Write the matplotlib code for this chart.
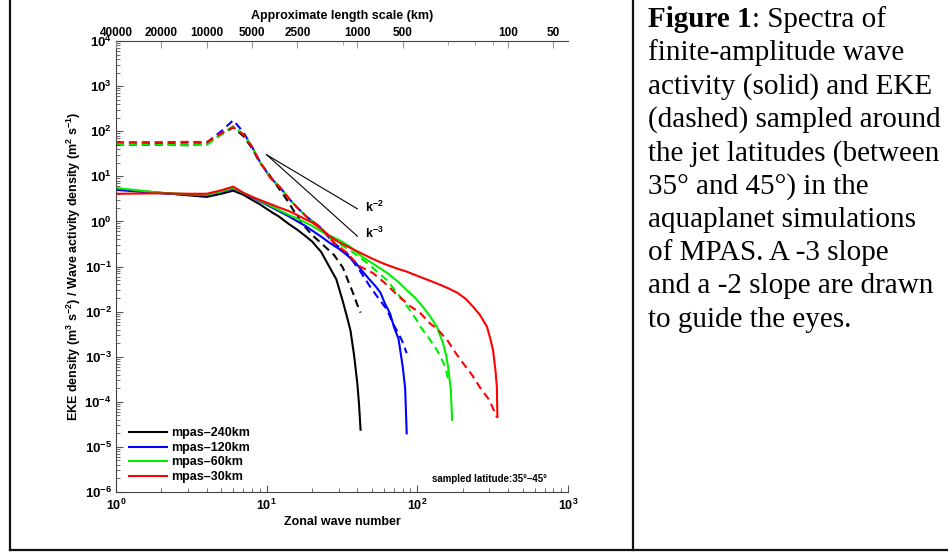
import numpy as np
import matplotlib
matplotlib.use('Agg')
import matplotlib.pyplot as plt
from matplotlib.ticker import LogLocator, NullFormatter, FixedLocator

plt.rcParams['font.family'] = 'Liberation Sans'
plt.rcParams['font.weight'] = 'bold'
plt.rcParams['axes.labelweight'] = 'bold'
plt.rcParams['mathtext.fontset'] = 'custom'
plt.rcParams['mathtext.rm'] = 'Liberation Sans:bold'
plt.rcParams['mathtext.it'] = 'Liberation Sans:bold:italic'
plt.rcParams['mathtext.bf'] = 'Liberation Sans:bold'

# --- data -----------------------------------------------------------------
models = ['mpas–240km', 'mpas–120km', 'mpas–60km', 'mpas–30km']
colors = ['#000000', '#0000ff', '#00ee00', '#ff0000']

# finite-amplitude wave activity (solid)
k_wa_240 = [1, 2, 3, 4, 5, 6, 7, 8, 9, 10, 11, 12, 14, 16, 18, 20, 23, 26, 29, 32, 34, 36, 38, 40, 41, 42]
wa_240 = [5.2, 4.3, 3.8, 3.5, 4.1, 4.8, 3.9, 3.0, 2.4, 1.9, 1.54, 1.3, 0.88, 0.65, 0.48, 0.36, 0.21, 0.1,
          0.052, 0.017, 0.008, 0.0038, 0.0011, 2.5e-4, 9e-5, 2.4e-5]

k_wa_120 = [1, 2, 3, 4, 5, 6, 7, 8, 9, 10, 11, 12, 14, 16, 18, 20, 23, 26, 30, 34, 39, 43, 48, 53, 57, 61,
            66, 70, 75, 80, 83, 85]
wa_120 = [5.0, 4.2, 3.9, 3.8, 4.5, 5.3, 4.2, 3.4, 2.8, 2.35, 1.98, 1.7, 1.3, 1.0, 0.8, 0.63, 0.46, 0.34,
          0.25, 0.18, 0.12, 0.08, 0.052, 0.036, 0.026, 0.015, 0.009, 0.0045, 0.0025, 6e-4, 2e-4, 2e-5]

k_wa_60 = [1, 2, 3, 4, 5, 6, 7, 8, 9, 10, 11, 12, 14, 16, 18, 20, 23, 27, 31, 36, 43, 52, 63, 75, 85, 97,
           109, 121, 135, 148, 155, 160, 167, 170]
wa_60 = [5.5, 4.3, 4.0, 3.9, 4.6, 5.5, 4.3, 3.5, 2.9, 2.45, 2.09, 1.8, 1.4, 1.15, 0.95, 0.8, 0.6, 0.46,
         0.37, 0.27, 0.165, 0.11, 0.072, 0.045, 0.03, 0.02, 0.0127, 0.008, 0.0046, 0.002, 0.0011, 6e-4,
         1.8e-4, 4e-5]

k_wa_30 = [1, 2, 3, 4, 5, 6, 7, 8, 9, 10, 11, 12, 14, 16, 18, 20, 23, 26, 30, 35, 42, 50, 60, 72, 85, 100,
           120, 140, 160, 185, 210, 235, 260, 290, 305, 318, 330, 337, 340]
wa_30 = [4.1, 4.2, 4.1, 4.1, 4.9, 5.9, 4.3, 3.5, 3.0, 2.6, 2.31, 2.05, 1.7, 1.38, 1.12, 0.95, 0.68, 0.48,
         0.35, 0.27, 0.2, 0.15, 0.115, 0.092, 0.077, 0.062, 0.049, 0.04, 0.033, 0.026, 0.019, 0.0127,
         0.0085, 0.0046, 0.0025, 0.0014, 5e-4, 2.2e-4, 4.6e-5]

# EKE (dashed)
k_eke_240 = [1, 2, 3, 4, 5, 6, 7, 8, 9, 10, 11, 12, 13, 14, 15, 16, 17, 18, 20, 23, 25.5, 28, 30, 32, 35,
             37.4, 40, 42]
eke_240 = [51, 50, 49, 51, 85, 122, 78, 42, 20, 13, 8.3, 5.5, 3.8, 2.6, 1.8, 1.3, 0.95, 0.75, 0.5, 0.33,
           0.24, 0.18, 0.13, 0.095, 0.045, 0.026, 0.014, 0.0095]

k_eke_120 = [1, 2, 3, 4, 5, 6, 7, 8, 9, 10, 10.5, 12.2, 14.3, 16, 18.5, 22.6, 27.6, 34, 41.6, 48, 55, 63,
             68, 74, 79, 85]
eke_120 = [55, 55, 56, 56, 100, 175, 95, 45, 21, 12.5, 9.6, 5.8, 3.0, 2.0, 1.25, 0.75, 0.34, 0.2, 0.08,
           0.038, 0.02, 0.011, 0.006, 0.0035, 0.0023, 0.0012]

k_eke_60 = [1, 2, 3, 4, 5, 6, 7, 8, 9, 10, 10.5, 12.2, 14.3, 16, 18.5, 22.6, 27.6, 35.7, 46.3, 62.8, 80,
            99, 104, 120, 135, 150, 157, 160]
eke_60 = [52, 50, 49, 50, 85, 130, 85, 45, 21, 12.5, 9.6, 5.8, 3.0, 2.0, 1.25, 0.75, 0.38, 0.232, 0.12,
          0.05, 0.0181, 0.0065, 0.0048, 0.0025, 0.0014, 7e-4, 4.4e-4, 3e-4]

k_eke_30 = [1, 2, 3, 4, 5, 6, 7, 8, 9, 10, 10.5, 12.2, 14.3, 16, 18.5, 22.6, 27.6, 34, 41.6, 50.7, 60, 73,
            90, 104, 121, 135, 160, 180, 201, 230, 260, 300, 337]
eke_30 = [57, 57, 58, 57, 90, 123, 85, 45, 21, 12.5, 9.6, 5.8, 3.0, 2.0, 1.25, 0.75, 0.35, 0.2, 0.1,
          0.0718, 0.045, 0.024, 0.013, 0.0095, 0.0055, 0.0042, 0.0022, 0.0012, 7.2e-4, 4e-4, 2.1e-4,
          1.1e-4, 4.6e-5]

wa_k = [k_wa_240, k_wa_120, k_wa_60, k_wa_30]
wa = [wa_240, wa_120, wa_60, wa_30]
eke_k = [k_eke_240, k_eke_120, k_eke_60, k_eke_30]
eke = [eke_240, eke_120, eke_60, eke_30]

# guide slopes (k^-2 and k^-3) end points
slope_k = [10, 40]
slope2_v = [30, 1.9]
slope3_v = [30, 0.47]

# top axis: approximate length scale (km)
length_labels = [40000, 20000, 10000, 5000, 2500, 1000, 500, 100, 50]
length_minor = [1250, 250, 166.7, 125]

caption = ['finite-amplitude wave', 'activity (solid) and EKE', '(dashed) sampled around',
           'the jet latitudes (between', '35° and 45°) in the', 'aquaplanet simulations',
           'of MPAS. A -3 slope', 'and a -2 slope are drawn', 'to guide the eyes.']

# --- figure ---------------------------------------------------------------
W, H = 948, 552
fig = plt.figure(figsize=(W / 100, H / 100), dpi=100)
ax = fig.add_axes([116 / W, 1 - 492 / H, 452 / W, 451 / H])

handles = []
for i in range(4):
    h, = ax.plot(wa_k[i], wa[i], color=colors[i], lw=1.5, label=models[i])
    handles.append(h)
    ax.plot(eke_k[i], eke[i], color=colors[i], lw=1.5, dashes=(3.8, 2.4))

ax.plot(slope_k, slope2_v, color='black', lw=0.8)
ax.plot(slope_k, slope3_v, color='black', lw=0.8)
ax.text(45, 2.0, r'k$^{-2}$', fontsize=9, va='center', ha='left')
ax.text(45, 0.55, r'k$^{-3}$', fontsize=9, va='center', ha='left')

ax.set_xscale('log')
ax.set_yscale('log')
ax.set_xlim(1, 1000)
ax.set_ylim(1e-6, 1e4)
ax.set_yticks([10.0 ** e for e in range(-6, 5)])
ax.yaxis.set_minor_locator(LogLocator(base=10, subs=np.arange(2, 10), numticks=100))
ax.yaxis.set_minor_formatter(NullFormatter())
ax.xaxis.set_minor_locator(LogLocator(base=10, subs=np.arange(2, 10), numticks=100))
ax.xaxis.set_minor_formatter(NullFormatter())

ax.spines['right'].set_visible(False)
ax.spines['top'].set_visible(False)
for s in ['left', 'bottom']:
    ax.spines[s].set_color('#444444')
    ax.spines[s].set_linewidth(0.8)
ax.tick_params(which='both', direction='in', color='#555555')
ax.tick_params(which='major', length=5, labelsize=9, pad=4)
ax.tick_params(axis='y', which='major', labelsize=9.5, pad=3)
ax.tick_params(which='minor', length=3)

ax.set_xlabel('Zonal wave number', fontsize=9, labelpad=2)
ax.set_ylabel(r'EKE density (m$^3$ s$^{-2}$) / Wave activity density (m$^2$ s$^{-1}$)',
              fontsize=9, labelpad=1)

ax.legend(handles=handles, loc='lower left', bbox_to_anchor=(0.029, 0.02), frameon=False,
          fontsize=9, handlelength=3.0, handletextpad=0.4, labelspacing=0.2,
          borderpad=0, borderaxespad=0)
ax.text(0.954, 0.029, 'sampled latitude:35°–45°', transform=ax.transAxes, fontsize=7,
        ha='right', va='center')

# top axis with length scale
ax2 = ax.twiny()
ax2.set_xscale('log')
ax2.set_xlim(1, 1000)
ax2.xaxis.set_major_locator(FixedLocator([40000 / L for L in length_labels]))
ax2.set_xticklabels([str(L) for L in length_labels])
ax2.xaxis.set_minor_locator(FixedLocator([40000 / L for L in length_minor]))
ax2.xaxis.set_minor_formatter(NullFormatter())
for s in ['left', 'right', 'bottom']:
    ax2.spines[s].set_visible(False)
ax2.spines['top'].set_color('#444444')
ax2.spines['top'].set_linewidth(0.8)
ax2.tick_params(which='both', direction='in', color='#999999')
ax2.tick_params(which='major', length=5, labelsize=8.5, pad=1.5)
ax2.tick_params(which='minor', length=3)
ax2.set_xlabel('Approximate length scale (km)', fontsize=9, labelpad=6)

# frame lines of the figure panel
frame_kw = dict(color='#111111', lw=1.6, transform=fig.transFigure, clip_on=False)
fig.add_artist(plt.Line2D([9.5 / W, 9.5 / W], [1, 1 - 550 / H], **frame_kw))
fig.add_artist(plt.Line2D([9.5 / W, 1], [1 - 550 / H, 1 - 550 / H], **frame_kw))
fig.add_artist(plt.Line2D([633 / W, 633 / W], [1, 1 - 550 / H], **frame_kw))

# caption
cap_kw = dict(fontfamily='Liberation Serif', fontsize=21, va='baseline', ha='left')
x0 = 648
t = fig.text(x0 / W, 1 - 27 / H, 'Figure 1', fontweight='bold', **cap_kw)
fig.canvas.draw()
bb = t.get_window_extent()
fig.text(bb.x1 / W, 1 - 27 / H, ': Spectra of', fontweight='normal', **cap_kw)
for i, line in enumerate(caption):
    fig.text(x0 / W, 1 - (27 + 33.3 * (i + 1)) / H, line, fontweight='normal', **cap_kw)

fig.savefig('out.png', dpi=100)
